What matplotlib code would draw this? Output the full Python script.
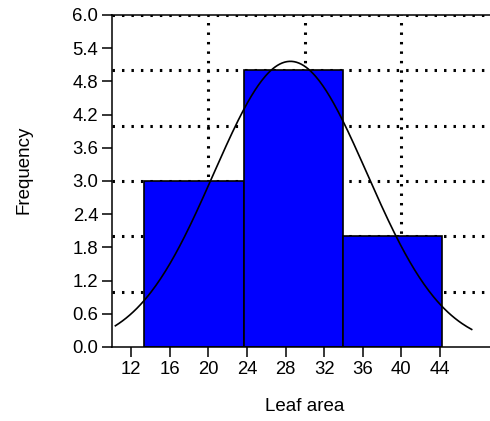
import matplotlib.pyplot as plt
import numpy as np

# Histogram bins (edges) and counts
bin_edges = [13.35, 23.65, 33.95, 44.25]
counts = [3, 5, 2]

# Fitted normal curve parameters
curve_mean = 28.5
curve_sd = 7.96
curve_range = (10.35, 47.3)

x_ticks = [12, 16, 20, 24, 28, 32, 36, 40, 44]
y_ticks = [0.0, 0.6, 1.2, 1.8, 2.4, 3.0, 3.6, 4.2, 4.8, 5.4, 6.0]
grid_x = [20, 30, 40]
grid_y = [1, 2, 3, 4, 5, 6]

plt.rcParams['font.family'] = ['Liberation Sans', 'DejaVu Sans']

fig = plt.figure(figsize=(4.9, 4.21), dpi=100)
ax = fig.add_axes([0.2286, 0.1758, 1 - 0.2286, 0.9644 - 0.1758])

# Dotted grid behind the bars
dots = (0, (0.8, 2.3))
for gx in grid_x:
    ax.axvline(gx, color='black', lw=2.2, linestyle=dots, zorder=0.5)
for gy in grid_y:
    ax.axhline(gy, color='black', lw=2.2, linestyle=dots, zorder=0.5)

widths = np.diff(bin_edges)
ax.bar(bin_edges[:-1], counts, width=widths, align='edge',
       color='#0000FF', edgecolor='black', linewidth=1.2, zorder=2)

# Normal curve scaled to the histogram
n = sum(counts)
bw = widths[0]
xs = np.linspace(curve_range[0], curve_range[1], 300)
ys = n * bw / (curve_sd * np.sqrt(2 * np.pi)) * np.exp(-0.5 * ((xs - curve_mean) / curve_sd) ** 2)
ax.plot(xs, ys, color='black', lw=1.2, zorder=3)

ax.set_xlim(10, 49.2)
ax.set_ylim(0, 6)
ax.set_xticks(x_ticks)
ax.set_yticks(y_ticks)
ax.set_yticklabels([f"{v:.1f}" for v in y_ticks])
ax.tick_params(direction='out', length=7, width=1.1, labelsize=13.3, colors='black', pad=3)

ax.spines['right'].set_visible(False)
for s in ['left', 'bottom', 'top']:
    ax.spines[s].set_linewidth(1.1)

fig.text(0.622, 0.024, "Leaf area", fontsize=13.5, ha='center', va='baseline')
fig.text(0.049, 0.596, "Frequency", rotation=90, fontsize=13.5, ha='center', va='center')

plt.savefig('out.png', dpi=100)
